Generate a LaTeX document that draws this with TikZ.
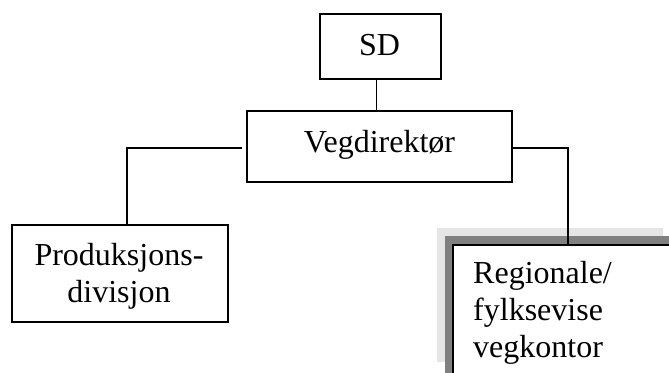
\documentclass[tikz,border=0pt]{standalone}
\usepackage{fontspec}
\setmainfont{Liberation Serif}
\begin{document}
\begin{tikzpicture}[x=1pt,y=-1pt,
  box/.style={draw=black,line width=1.5pt,fill=white,inner sep=0pt},
  conn/.style={draw=black,line width=1.5pt},
  lbl/.style={inner sep=0pt,anchor=base,font=\fontsize{32}{37}\selectfont},
  lbll/.style={lbl,anchor=base west}]
\useasboundingbox (0,0) rectangle (669,372);
\clip (0,0) rectangle (669,372);

% org boxes
\node[box,minimum width=121pt,minimum height=65pt] (sd) at (380.5,46.5) {};
\node[box,minimum width=265pt,minimum height=71pt] (veg) at (379.5,146.5) {};
\node[box,minimum width=216pt,minimum height=97pt] (prod) at (120,273.5) {};

% regional office box with its raised border
\fill[black!10] (437,228) rectangle (663,362);
\fill[black!50] (445,236) rectangle (700,400);
\node[box,anchor=north west,minimum width=260pt,minimum height=160pt] (reg) at (452,244) {};

% texts
\node[lbl] (sdt) at (379.5,55) {SD};
\node[lbl] (vegt) at (379.5,152) {Vegdirektør};
\node[lbl] (prodt1) at (119,265) {Produksjons-};
\node[lbl] (prodt2) at (119,302) {divisjon};
\node[lbll] (regt1) at (473,283) {Regionale/};
\node[lbll] (regt2) at (473,320) {fylksevise};
\node[lbll] (regt3) at (473,357) {vegkontor};

% connectors
\coordinate (vegw) at (242,148);
\coordinate (prodn) at (127,225);
\coordinate (sdd) at (376.7,79);
\coordinate (regn) at (568,244);
\draw[conn] (sdd) -- (sdd |- veg.north);
\draw[conn] (vegw) -| (prodn);
\draw[conn] (veg.east |- vegw) -| (regn);
\end{tikzpicture}
\end{document}
